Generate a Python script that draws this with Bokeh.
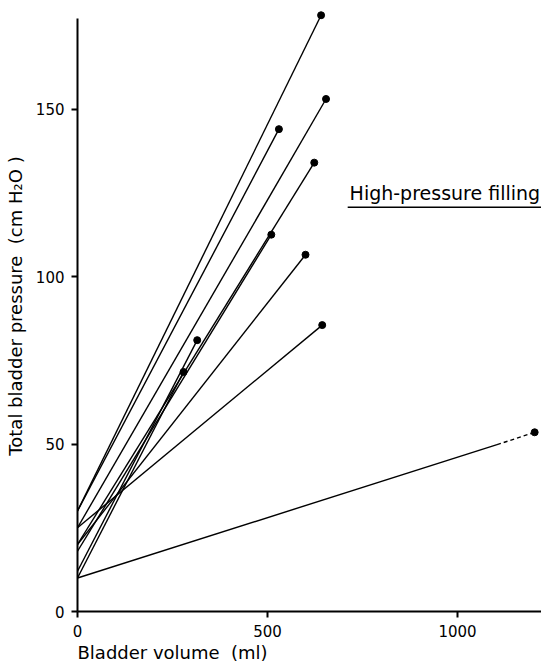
from bokeh.plotting import figure
from bokeh.models import FixedTicker, Label, Range1d, Title
from bokeh.embed import file_html
from bokeh.resources import INLINE

# ---- data ----
pressure_at_zero = [30, 25, 30, 20, 18, 20, 25, 12, 10, 10]          # cm H2O at 0 ml
end_volume = [641, 654, 530, 623, 510, 600, 644, 315, 279, 1203]      # ml
end_pressure = [178, 153, 144, 134, 112.5, 106.5, 85.5, 81, 71.5, 53.5]
# the last line turns dashed from this point on
dash_start_volume = 1104
dash_start_pressure = 49.8

x_ticks = [0, 500, 1000]
y_ticks = [0, 50, 100, 150]
title_text = "High-pressure filling"
x_label = "Bladder volume\u00a0\u00a0(ml)"
y_label = "Total bladder pressure\u00a0\u00a0(cm H\u2082O\u00a0)"

FONT = "DejaVu Sans"
X_END = 1221

p = figure(width=541, height=662, output_backend="svg", toolbar_location=None,
           x_range=Range1d(0, X_END), y_range=Range1d(0, 182.4),
           min_border_left=77, min_border_right=0, min_border_top=0,
           min_border_bottom=49)
p.outline_line_color = None
p.xgrid.visible = False
p.ygrid.visible = False
p.background_fill_color = "white"
p.border_fill_color = "white"

for ax in (p.xaxis[0], p.yaxis[0]):
    ax.axis_line_width = 2
    ax.axis_line_color = "black"
    ax.major_tick_line_width = 2
    ax.major_tick_out = 6
    ax.major_tick_in = 0
    ax.minor_tick_line_color = None
    ax.major_label_text_font = FONT
    ax.major_label_text_font_size = "15px"
    ax.major_label_text_color = "black"

p.xaxis.ticker = FixedTicker(ticks=x_ticks)
p.yaxis.ticker = FixedTicker(ticks=y_ticks)
p.yaxis.bounds = (0, 177)
p.xaxis.major_label_standoff = 7
p.yaxis.major_label_standoff = 7

p.yaxis.axis_label = y_label
p.yaxis.axis_label_text_font = FONT
p.yaxis.axis_label_text_font_style = "normal"
p.yaxis.axis_label_text_font_size = "18px"
p.yaxis.axis_label_text_color = "black"
p.yaxis.axis_label_standoff = 7

# lines: solid from the zero-volume pressure to the end point (last one dashed at the end)
n = len(end_volume)
solid_x1 = [end_volume[i] for i in range(n - 1)] + [dash_start_volume]
solid_y1 = [end_pressure[i] for i in range(n - 1)] + [dash_start_pressure]
p.segment(x0=[0] * n, y0=pressure_at_zero, x1=solid_x1, y1=solid_y1,
          line_color="black", line_width=1.4)
p.segment(x0=[dash_start_volume], y0=[dash_start_pressure],
          x1=[end_volume[-1]], y1=[end_pressure[-1]],
          line_color="black", line_width=1.4, line_dash="4 3")
p.scatter(end_volume, end_pressure, size=7, color="black")

# title with underline
TITLE_X, TITLE_Y = 716, 125
p.add_layout(Label(x=TITLE_X, y=TITLE_Y, text=title_text, text_font=FONT,
                   text_font_size="19px", text_color="black",
                   text_baseline="alphabetic", text_align="left"))
p.segment(x0=[TITLE_X - 5], y0=[120.7], x1=[X_END], y1=[120.7],
          line_color="black", line_width=1.4)

# x-axis label, left-aligned at the frame's left edge
p.add_layout(Title(text=x_label, align="left", text_font=FONT,
                   text_font_size="18px", text_font_style="normal",
                   text_color="black", standoff=0, offset=0), "below")

open("out.html", "w").write(file_html(p, INLINE))
